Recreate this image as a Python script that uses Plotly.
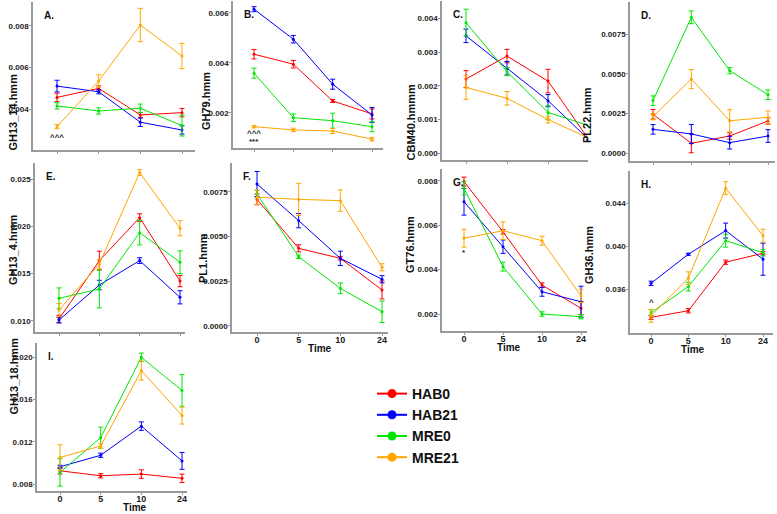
import plotly.graph_objects as go

times = ["0", "5", "10", "24"]
groups = ["HAB0", "HAB21", "MRE0", "MRE21"]
colors = {"HAB0": "#FF0000", "HAB21": "#0000FF", "MRE0": "#00E600", "MRE21": "#FFA500"}

# A. GH13_14.hmm
gh13_14_mean = {"HAB0": [0.00457, 0.00500, 0.00373, 0.00384],
                "HAB21": [0.00511, 0.00484, 0.00338, 0.00301],
                "MRE0": [0.00416, 0.00392, 0.00405, 0.00322],
                "MRE21": [0.00317, 0.00535, 0.00803, 0.00655]}
gh13_14_err = {"HAB0": [0.00020, 0.00012, 0.00012, 0.00020],
               "HAB21": [0.00028, 0.00010, 0.00020, 0.00020],
               "MRE0": [0.00015, 0.00015, 0.00020, 0.00050],
               "MRE21": [0.00010, 0.00030, 0.00080, 0.00060]}

# B. GH79.hmm
gh79_mean = {"HAB0": [0.00434, 0.00394, 0.00247, 0.00195],
             "HAB21": [0.00614, 0.00494, 0.00314, 0.00191],
             "MRE0": [0.00358, 0.00180, 0.00168, 0.00144],
             "MRE21": [0.00144, 0.00131, 0.00127, 0.00094]}
gh79_err = {"HAB0": [0.00019, 0.00015, 0.00006, 0.00020],
            "HAB21": [0.00010, 0.00015, 0.00020, 0.00030],
            "MRE0": [0.00020, 0.00015, 0.00030, 0.00020],
            "MRE21": [0.00005, 0.00007, 0.00010, 0.00007]}

# C. CBM40.hmmm
cbm40_mean = {"HAB0": [0.00220, 0.00288, 0.00214, 0.00040],
              "HAB21": [0.00348, 0.00252, 0.00156, 0.00040],
              "MRE0": [0.00387, 0.00242, 0.00121, 0.00082],
              "MRE21": [0.00195, 0.00163, 0.00100, 0.00045]}
cbm40_err = {"HAB0": [0.00025, 0.00020, 0.00035, 0.0],
             "HAB21": [0.00020, 0.00020, 0.00018, 0.0],
             "MRE0": [0.00040, 0.00012, 0.00020, 0.0],
             "MRE21": [0.00035, 0.00020, 0.00010, 0.0]}

# D. PL22.hmm
pl22_mean = {"HAB0": [0.00246, 0.00063, 0.00109, 0.00204],
             "HAB21": [0.00151, 0.00122, 0.00067, 0.00109],
             "MRE0": [0.00332, 0.00857, 0.00521, 0.00369],
             "MRE21": [0.00231, 0.00468, 0.00205, 0.00227]}
pl22_err = {"HAB0": [0.00030, 0.00060, 0.00020, 0.00020],
            "HAB21": [0.00030, 0.00060, 0.00040, 0.00040],
            "MRE0": [0.00030, 0.00040, 0.00020, 0.00030],
            "MRE21": [0.00020, 0.00060, 0.00070, 0.00040]}

# E. GH13_4.hmm
gh13_4_mean = {"HAB0": [0.01018, 0.01636, 0.02091, 0.01420],
               "HAB21": [0.01007, 0.01378, 0.01636, 0.01248],
               "MRE0": [0.01237, 0.01336, 0.01932, 0.01619],
               "MRE21": [0.01113, 0.01600, 0.02568, 0.01979]}
gh13_4_err = {"HAB0": [0.00040, 0.00100, 0.00040, 0.00060],
              "HAB21": [0.00030, 0.00050, 0.00030, 0.00070],
              "MRE0": [0.00110, 0.00200, 0.00130, 0.00120],
              "MRE21": [0.00070, 0.00050, 0.00030, 0.00080]}

# F. PL1.hmm
pl1_mean = {"HAB0": [0.00707, 0.00433, 0.00377, 0.00200],
            "HAB21": [0.00793, 0.00588, 0.00377, 0.00260],
            "MRE0": [0.00737, 0.00386, 0.00209, 0.00078],
            "MRE21": [0.00719, 0.00707, 0.00700, 0.00327]}
pl1_err = {"HAB0": [0.00030, 0.00020, 0.00010, 0.00050],
           "HAB21": [0.00070, 0.00040, 0.00040, 0.00020],
           "MRE0": [0.00020, 0.00010, 0.00030, 0.00060],
           "MRE21": [0.00040, 0.00090, 0.00060, 0.00020]}

# G. GT76.hmm
gt76_mean = {"HAB0": [0.00796, 0.00570, 0.00330, 0.00226],
             "HAB21": [0.00705, 0.00503, 0.00300, 0.00255],
             "MRE0": [0.00766, 0.00413, 0.00200, 0.00188],
             "MRE21": [0.00541, 0.00575, 0.00530, 0.00281]}
gt76_err = {"HAB0": [0.00020, 0.00010, 0.00010, 0.00030],
            "HAB21": [0.00060, 0.00030, 0.00020, 0.00070],
            "MRE0": [0.00030, 0.00020, 0.00010, 0.00010],
            "MRE21": [0.00040, 0.00040, 0.00020, 0.00030]}

# H. GH36.hmm
gh36_mean = {"HAB0": [0.03335, 0.03397, 0.03850, 0.03934],
             "HAB21": [0.03653, 0.03924, 0.04145, 0.03878],
             "MRE0": [0.03378, 0.03622, 0.04051, 0.03939],
             "MRE21": [0.03350, 0.03700, 0.04541, 0.04098]}
gh36_err = {"HAB0": [0.00020, 0.00020, 0.00020, 0.00015],
            "HAB21": [0.00020, 0.00010, 0.00070, 0.00150],
            "MRE0": [0.00030, 0.00040, 0.00060, 0.00030],
            "MRE21": [0.00060, 0.00060, 0.00060, 0.00060]}

# I. GH13_18.hmm
gh13_18_mean = {"HAB0": [0.00925, 0.00878, 0.00894, 0.00854],
                "HAB21": [0.00963, 0.01072, 0.01348, 0.01019],
                "MRE0": [0.00910, 0.01239, 0.02000, 0.01686],
                "MRE21": [0.01051, 0.01160, 0.01874, 0.01448]}
gh13_18_err = {"HAB0": [0.00030, 0.00020, 0.00040, 0.00040],
               "HAB21": [0.00015, 0.00020, 0.00040, 0.00080],
               "MRE0": [0.00130, 0.00100, 0.00040, 0.00150],
               "MRE21": [0.00120, 0.00020, 0.00090, 0.00080]}

# significance marks: (time, text, y value)
gh13_14_sig = [("0", "^^^", 0.00266), ("10", "^^^", 0.00739), ("10", "**", 0.00700),
               ("24", "^", 0.00584), ("24", "*", 0.00546)]
gh79_sig = [("0", "^^^", 0.00115), ("0", "***", 0.00086), ("5", "^^^", 0.00115), ("10", "^^", 0.00115)]
pl22_sig = [("5", "^^", 0.00597), ("5", "**", 0.00548), ("10", "**", 0.00293)]
gh13_4_sig = [("10", "^^^", 0.02470), ("10", "**", 0.02375)]
pl1_sig = [("10", "^^", 0.00612), ("10", "***", 0.00556)]
gt76_sig = [("0", "*", 0.00475), ("10", "^^^", 0.00435), ("10", "***", 0.00388)]
gh36_sig = [("0", "^", 0.03470), ("5", "^", 0.03775), ("10", "^^^", 0.04440), ("10", "***", 0.04355)]
gh13_18_sig = [("10", "^^", 0.01740)]

W, H = 777, 514

# panel: letter, title, means, errs, sig, box (left, right, top, bottom px),
#        x tick px (first, last), y ticks (v1, px1, v2, px2), tickvals, format, x labels, title pos
panels = [
    ("A.", "GH13_14.hmm", gh13_14_mean, gh13_14_err, gh13_14_sig, (33, 195, 2, 150), (57, 182),
     (0.008, 25.7, 0.004, 109.3), [0.004, 0.006, 0.008], ".3f", False, (5, 72)),
    ("B.", "GH79.hmm", gh79_mean, gh79_err, gh79_sig, (233, 383, 1, 148), (254, 372),
     (0.006, 12.7, 0.002, 112.7), [0.002, 0.004, 0.006], ".3f", False, (198, 70)),
    ("C.", "CBM40.hmmm", cbm40_mean, cbm40_err, [], (442, 588, 1, 160), (466, 589),
     (0.004, 18.3, 0.0, 153.3), [0.0, 0.001, 0.002, 0.003, 0.004], ".3f", False, (410, 82)),
    ("D.", "PL22.hmm", pl22_mean, pl22_err, pl22_sig, (630, 775, 2, 161), (653, 768),
     (0.0075, 34.3, 0.0, 153.3), [0.0, 0.0025, 0.005, 0.0075], ".4f", False, (595, 85)),
    ("E.", "GH13_4.hmm", gh13_4_mean, gh13_4_err, gh13_4_sig, (35, 185, 163, 332), (59, 180),
     (0.025, 179, 0.010, 320.7), [0.010, 0.015, 0.020, 0.025], ".3f", False, (5, 250)),
    ("F.", "PL1.hmm", pl1_mean, pl1_err, pl1_sig, (232, 388, 163, 332), (257, 382),
     (0.0075, 191.7, 0.0, 325.7), [0.0, 0.0025, 0.005, 0.0075], ".4f", True, (195, 258)),
    ("G.", "GT76.hmm", gt76_mean, gt76_err, gt76_sig, (442, 587, 169, 331), (464, 581),
     (0.008, 180.7, 0.002, 314), [0.002, 0.004, 0.006, 0.008], ".3f", True, (410, 245)),
    ("H.", "GH36.hmm", gh36_mean, gh36_err, gh36_sig, (630, 773, 171, 333), (651, 763),
     (0.044, 203.3, 0.036, 289), [0.036, 0.040, 0.044], ".3f", True, (597, 255)),
    ("I.", "GH13_18.hmm", gh13_18_mean, gh13_18_err, gh13_18_sig, (37, 187, 343, 491), (60, 182),
     (0.020, 357.3, 0.008, 484), [0.008, 0.012, 0.016, 0.020], ".3f", True, (5, 417)),
]

FONT = "Liberation Sans"
AXIS_GREY = "#9a9a9a"

fig = go.Figure()
annotations = []

for i, (letter, title, means, errs, sig, box, xt, yt, tickvals, fmt, xlabels, tpos) in enumerate(panels):
    n = "" if i == 0 else str(i + 1)
    left, right, top, bottom = box
    unit = (xt[1] - xt[0]) / 3
    xr = [(left - xt[0]) / unit, (right - xt[0]) / unit]
    v1, p1, v2, p2 = yt
    per_px = (v1 - v2) / (p2 - p1)
    yr = [v2 - (bottom - p2) * per_px, v1 + (p1 - top) * per_px]

    for g in groups:
        fig.add_trace(go.Scatter(
            x=times, y=means[g], mode="lines+markers", name=g, showlegend=False,
            xaxis="x" + n, yaxis="y" + n,
            line=dict(color=colors[g], width=1),
            marker=dict(color=colors[g], size=3),
            error_y=dict(type="data", array=errs[g], color=colors[g], thickness=1, width=2.5),
        ))

    fig.update_layout(**{
        "xaxis" + n: dict(
            domain=[left / W, right / W], anchor="y" + n, type="category",
            categoryorder="array", categoryarray=times, range=xr, automargin=False,
            showline=True, linecolor=AXIS_GREY, linewidth=1.5, showgrid=False, zeroline=False,
            ticks="outside", ticklen=2, tickcolor=AXIS_GREY, showticklabels=xlabels,
            ticklabelstandoff=-4,
            tickfont=dict(family=FONT, size=9, color="#222", weight="bold"),
        ),
        "yaxis" + n: dict(
            domain=[1 - bottom / H, 1 - top / H], anchor="x" + n, range=yr, automargin=False,
            tickvals=tickvals, tickformat=fmt,
            showline=True, linecolor=AXIS_GREY, linewidth=1.5, showgrid=False, zeroline=False,
            ticks="outside", ticklen=2, tickcolor=AXIS_GREY, ticklabelstandoff=-1,
            tickfont=dict(family=FONT, size=8, color="#222", weight="bold"),
        ),
    })

    annotations.append(dict(
        text=title, textangle=-90, xref="paper", yref="paper",
        x=tpos[0] / W, y=1 - tpos[1] / H, showarrow=False,
        font=dict(family=FONT, size=11, color="#111", weight="bold"),
    ))
    annotations.append(dict(
        text=letter, xref="paper", yref="paper",
        x=(left + 9) / W, y=1 - (top + 6) / H, xanchor="left", yanchor="top", showarrow=False,
        font=dict(family=FONT, size=10, color="#111", weight="bold"),
    ))
    if xlabels:
        annotations.append(dict(
            text="Time", xref="paper", yref="paper",
            x=(xt[0] + xt[1]) / 2 / W, y=1 - min(bottom + 16, H - 6) / H, yanchor="middle",
            showarrow=False, font=dict(family=FONT, size=10, color="#111", weight="bold"),
        ))
    for t, txt, yv in sig:
        annotations.append(dict(
            text=txt, xref="x" + n, yref="y" + n, x=t, y=yv,
            showarrow=False, font=dict(family=FONT, size=8, color="#222", weight="bold"),
        ))

# legend-only traces with bigger markers
for g in groups:
    fig.add_trace(go.Scatter(
        x=[None], y=[None], mode="lines+markers", name=g,
        line=dict(color=colors[g], width=2), marker=dict(color=colors[g], size=9),
    ))

fig.update_layout(
    template="none",
    width=W, height=H, margin=dict(l=0, r=0, t=0, b=0, autoexpand=False),
    paper_bgcolor="white", plot_bgcolor="white",
    annotations=annotations,
    showlegend=True,
    legend=dict(x=372 / W, y=1 - 378 / H, xanchor="left", yanchor="top",
                font=dict(family=FONT, size=14, color="#111", weight="bold"),
                bgcolor="rgba(0,0,0,0)", tracegroupgap=0, itemwidth=30),
    font=dict(family=FONT),
)

# the page body has a default 8px margin; drop it so the figure fills the window
fig.write_html("out.html", config={"displayModeBar": False},
               post_script="document.body.style.margin = '0px';")
